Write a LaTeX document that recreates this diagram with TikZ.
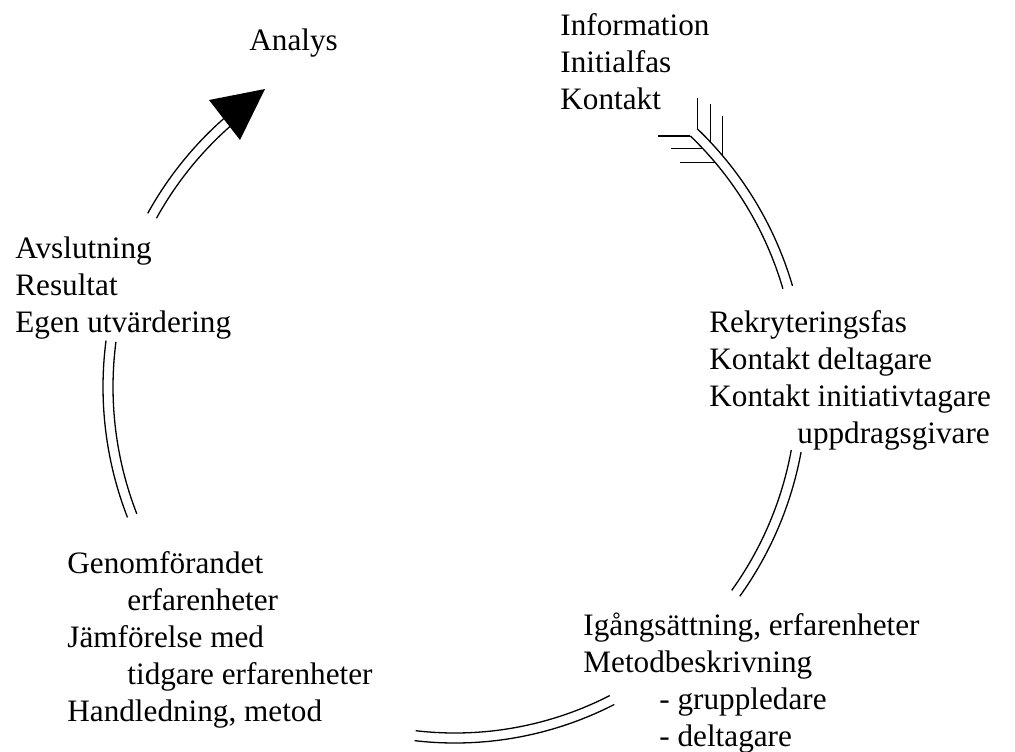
\documentclass[tikz,border=0pt]{standalone}
\usepackage{fontspec}
\setmainfont{Liberation Serif}
\newcommand\cx{455}
\newcommand\cy{387}
\newcommand\rx{347}
\newcommand\ry{351}
\newcommand\ringarc[2]{%
  \draw[ring] ({\cx+(\rx+5)*cos(#1)},{\cy+(\ry+5)*sin(#1)})
    arc[start angle=#1,end angle=#2,x radius=\rx+5,y radius=\ry+5];
  \draw[ring] ({\cx+(\rx-5)*cos(#1)},{\cy+(\ry-5)*sin(#1)})
    arc[start angle=#1,end angle=#2,x radius=\rx-5,y radius=\ry-5];}
\newcommand\blk[1]{\begin{tabular}[t]{@{}l@{}}#1\end{tabular}}
\begin{document}
\begin{tikzpicture}[x=0.5pt,y=-0.5pt,
  ring/.style={line width=0.65pt},
  lbl/.style={anchor=base west,inner sep=0pt,font=\fontsize{15.6}{18.6}\selectfont}]
\useasboundingbox (0,0) rectangle (1015,751);
% arcs of the cycle
\ringarc{-150.8}{-130}
\ringarc{-46.5}{-16.5}
\ringarc{10.5}{36}
\ringarc{63.1}{96.6}
\ringarc{158.5}{187.5}
% arrow head
\coordinate (tip) at (265,89);
\coordinate (wl) at (209,100);
\coordinate (wr) at (240,140);
\fill (tip) -- (wl) -- (wr) -- cycle;
% fletching at the tail
\foreach \s/\lv/\lh in {-46.5/31/32,-43.5/38/32,-40.5/40/35}{
  \coordinate (o) at ({\cx+(\rx+5)*cos(\s)},{\cy+(\ry+5)*sin(\s)});
  \coordinate (i) at ({\cx+(\rx-5)*cos(\s)},{\cy+(\ry-5)*sin(\s)});
  \draw[ring] (o) -- ++(0,-\lv);
  \draw[ring] (i) -- ++(-\lh,0);
}
% labels
\node[lbl] (analys) at (249,50) {Analys};
\node[lbl] (info) at (560,35) {\blk{Information\\Initialfas\\Kontakt}};
\node[lbl] (avsl) at (15,258) {\blk{Avslutning\\Resultat\\Egen utvärdering}};
\node[lbl] (rekr) at (709,332) {\blk{Rekryteringsfas\\Kontakt deltagare\\Kontakt initiativtagare\\\hspace*{44pt}uppdragsgivare}};
\node[lbl] (genom) at (67,573) {\blk{Genomförandet\\\hspace*{30pt}erfarenheter\\Jämförelse med\\\hspace*{30pt}tidgare erfarenheter\\Handledning, metod}};
\node[lbl] (igang) at (583,635) {\blk{Igångsättning, erfarenheter\\Metodbeskrivning\\\hspace*{38pt}- gruppledare\\\hspace*{38pt}- deltagare}};
\end{tikzpicture}
\end{document}
